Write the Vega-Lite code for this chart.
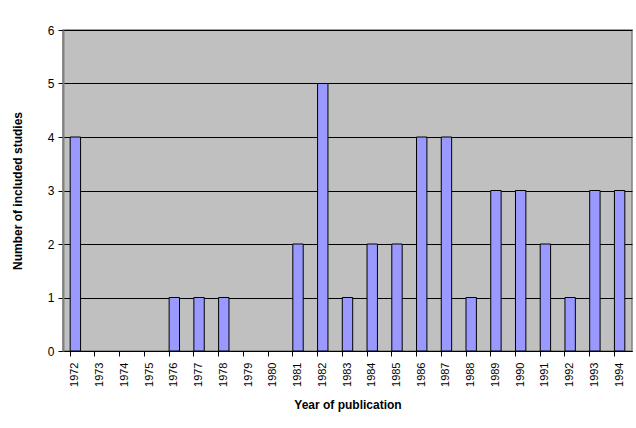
{
  "$schema": "https://vega.github.io/schema/vega-lite/v6.json",
  "autosize": "none",
  "width": 569,
  "height": 321,
  "padding": {"left": 63, "top": 30, "right": 4, "bottom": 77},
  "background": "white",
  "config": {
    "font": "Liberation Sans",
    "view": {"fill": "#C0C0C0", "stroke": "#808080", "strokeWidth": 1.5}
  },
  "data": {
    "values": [
      {"year": "1972", "n": 4}, {"year": "1973", "n": 0}, {"year": "1974", "n": 0},
      {"year": "1975", "n": 0}, {"year": "1976", "n": 1}, {"year": "1977", "n": 1},
      {"year": "1978", "n": 1}, {"year": "1979", "n": 0}, {"year": "1980", "n": 0},
      {"year": "1981", "n": 2}, {"year": "1982", "n": 5}, {"year": "1983", "n": 1},
      {"year": "1984", "n": 2}, {"year": "1985", "n": 2}, {"year": "1986", "n": 4},
      {"year": "1987", "n": 4}, {"year": "1988", "n": 1}, {"year": "1989", "n": 3},
      {"year": "1990", "n": 3}, {"year": "1991", "n": 2}, {"year": "1992", "n": 1},
      {"year": "1993", "n": 3}, {"year": "1994", "n": 3}
    ]
  },
  "mark": {"type": "bar", "fill": "#9999FF", "stroke": "#000000", "strokeWidth": 1},
  "encoding": {
    "x": {
      "field": "year", "type": "ordinal",
      "scale": {"paddingInner": 0.58, "paddingOuter": 0.29},
      "axis": {
        "title": "Year of publication", "titleFontSize": 12, "titleFontWeight": "bold",
        "titleColor": "#000", "titlePadding": 13,
        "labelAngle": -90, "labelFontSize": 11, "labelColor": "#000",
        "labelBaseline": "middle", "labelAlign": "right", "labelPadding": 6,
        "bandPosition": 0,
        "domainColor": "#000", "tickColor": "#000", "tickSize": 5,
        "grid": false
      }
    },
    "y": {
      "field": "n", "type": "quantitative",
      "scale": {"domain": [0, 6], "nice": false},
      "axis": {
        "title": "Number of included studies", "titleFontSize": 12, "titleFontWeight": "bold",
        "titleColor": "#000", "titlePadding": 23,
        "values": [0, 1, 2, 3, 4, 5, 6], "format": "d",
        "labelFontSize": 12, "labelColor": "#000", "labelPadding": 4,
        "domainColor": "#808080", "domainWidth": 2, "tickColor": "#000", "tickSize": 5,
        "grid": true, "gridColor": "#000", "gridOpacity": 1, "gridWidth": 1
      }
    },
    "strokeOpacity": {"condition": {"test": "datum.n == 0", "value": 0}, "value": 1}
  }
}
